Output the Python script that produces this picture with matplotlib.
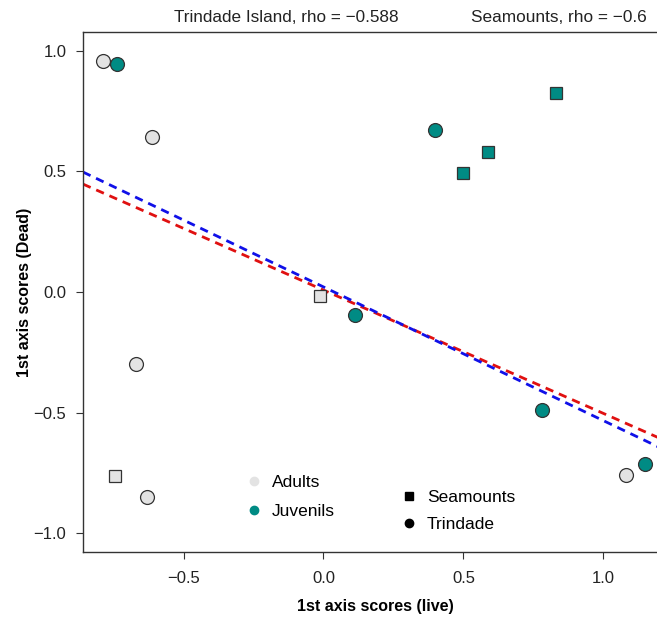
import matplotlib
matplotlib.use("Agg")
import matplotlib.pyplot as plt
from matplotlib.lines import Line2D
import numpy as np

plt.rcParams['font.family'] = ['Liberation Sans', 'DejaVu Sans']

# Ordination scores: live (x) vs dead (y) assemblages
adult_trindade_x = [-0.786, -0.614, -0.668, -0.629, 1.082]
adult_trindade_y = [0.957, 0.642, -0.298, -0.849, -0.758]
adult_seamount_x = [-0.011, -0.746]
adult_seamount_y = [-0.017, -0.762]
juv_trindade_x = [-0.739, 0.400, 0.114, 0.779, 1.150]
juv_trindade_y = [0.944, 0.671, -0.095, -0.489, -0.712]
juv_seamount_x = [0.832, 0.586, 0.500]
juv_seamount_y = [0.824, 0.580, 0.493]

# Fitted lines (intercept, slope)
fit_red = (0.008, -0.511)
fit_blue = (0.021, -0.554)

rho_trindade = "\u22120.588"
rho_seamounts = "\u22120.6"

col_adult = "#e3e3e3"
col_juv = "#008b84"
edge = "#333333"

W, H = 657, 626
fig = plt.figure(figsize=(W / 100, H / 100), dpi=100)
ax = fig.add_axes([83 / W, 1 - 552 / H, 584 / W, 520 / H])

xlim = (-0.859, 1.227)
ylim = (-1.077, 1.077)

xs = np.array(xlim)
ax.plot(xs, fit_red[0] + fit_red[1] * xs, color="#e01010", lw=2.0,
        ls=(0, (3.0, 2.2)), zorder=2)
ax.plot(xs, fit_blue[0] + fit_blue[1] * xs, color="#1010e8", lw=2.0,
        ls=(0, (3.0, 2.2)), zorder=2)

ms_c = 10.0
ms_s = 8.0
ax.plot(adult_trindade_x, adult_trindade_y, 'o', ms=ms_c, mfc=col_adult,
        mec=edge, mew=0.9, ls='none', zorder=3)
ax.plot(adult_seamount_x, adult_seamount_y, 's', ms=ms_s, mfc=col_adult,
        mec=edge, mew=0.9, ls='none', zorder=3)
ax.plot(juv_trindade_x, juv_trindade_y, 'o', ms=ms_c, mfc=col_juv,
        mec=edge, mew=0.9, ls='none', zorder=3)
ax.plot(juv_seamount_x, juv_seamount_y, 's', ms=ms_s, mfc=col_juv,
        mec=edge, mew=0.9, ls='none', zorder=3)

ax.set_xlim(*xlim)
ax.set_ylim(*ylim)
ax.set_xticks([-0.5, 0.0, 0.5, 1.0])
ax.set_xticklabels(["\u22120.5", "0.0", "0.5", "1.0"])
ax.set_yticks([-1.0, -0.5, 0.0, 0.5, 1.0])
ax.set_yticklabels(["\u22121.0", "\u22120.5", "0.0", "0.5", "1.0"])
ax.tick_params(direction='out', length=5, width=0.8, labelsize=12,
               color="#333333", labelcolor="#222222")
ax.tick_params(axis='x', pad=9)
ax.tick_params(axis='y', pad=7)
for s in ax.spines.values():
    s.set_linewidth(1.0)
    s.set_color("#333333")

ax.set_xlabel("1st axis scores (live)", fontsize=11.5, fontweight='bold',
              labelpad=9)
ax.set_ylabel("1st axis scores (Dead)", fontsize=11.5, fontweight='bold',
              labelpad=1)

fig.text(286 / W, 1 - 18 / H, f"Trindade Island, rho = {rho_trindade}",
         ha='center', va='center', fontsize=12.3, color="#222222")
fig.text(559 / W, 1 - 18 / H, f"Seamounts, rho = {rho_seamounts}",
         ha='center', va='center', fontsize=12.4, color="#222222")

age_handles = [
    Line2D([], [], marker='o', ls='none', ms=6, mfc=col_adult, mec=col_adult),
    Line2D([], [], marker='o', ls='none', ms=6, mfc=col_juv, mec=col_juv),
]
leg1 = ax.legend(age_handles, ["Adults", "Juvenils"], frameon=False,
                 fontsize=12.5, loc='center left',
                 bbox_to_anchor=((245 - 83) / 584, (552 - 497) / 520),
                 handlelength=1.0, handletextpad=0.55, labelspacing=0.75,
                 borderaxespad=0, borderpad=0)
ax.add_artist(leg1)

site_handles = [
    Line2D([], [], marker='s', ls='none', ms=6, mfc='black', mec='black'),
    Line2D([], [], marker='o', ls='none', ms=6, mfc='black', mec='black'),
]
ax.legend(site_handles, ["Seamounts", "Trindade"], frameon=False,
          fontsize=12.5, loc='center left',
          bbox_to_anchor=((400 - 83) / 584, (552 - 511) / 520),
          handlelength=1.0, handletextpad=0.55, labelspacing=0.68,
          borderaxespad=0, borderpad=0)

fig.savefig("out.png", dpi=100)
